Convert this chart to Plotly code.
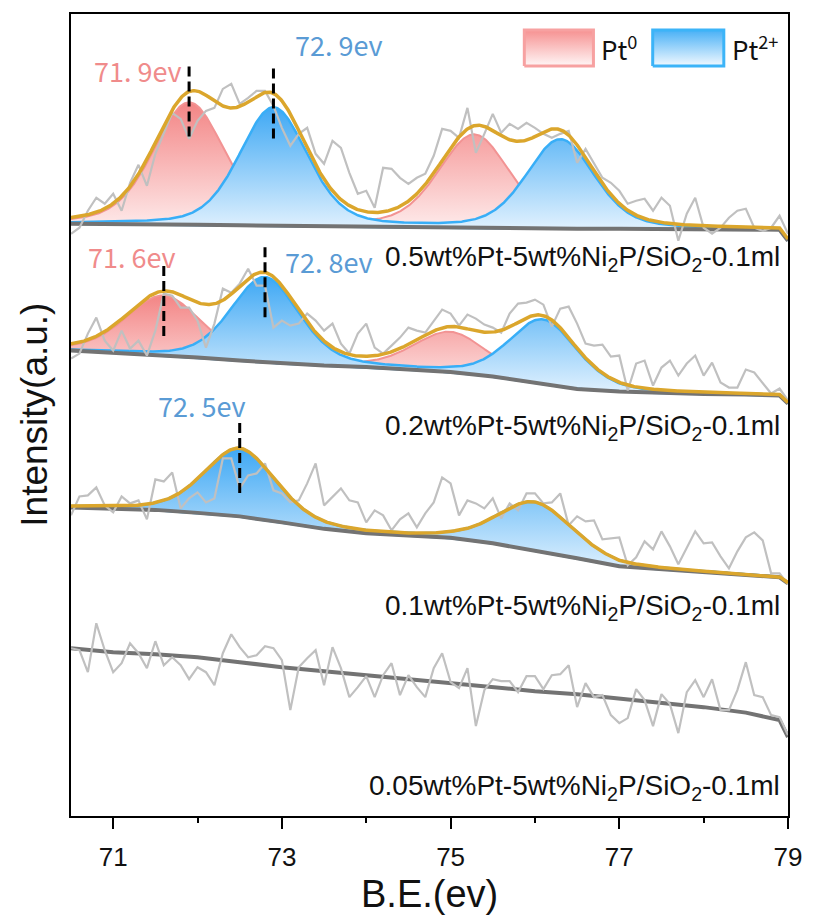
import numpy as np
import plotly.graph_objects as go

# ---------------------------------------------------------------
# Pt 4f XPS spectra of Pt-Ni2P/SiO2 catalysts (stacked, offset a.u.)
# ---------------------------------------------------------------

# binding-energy grid of the raw scans (eV)
ENERGY = np.round(np.arange(70.5, 79.0001, 0.1), 1)

SAMPLE_NAMES = [
    "0.5wt%Pt-5wt%Ni<sub>2</sub>P/SiO<sub>2</sub>-0.1ml",
    "0.2wt%Pt-5wt%Ni<sub>2</sub>P/SiO<sub>2</sub>-0.1ml",
    "0.1wt%Pt-5wt%Ni<sub>2</sub>P/SiO<sub>2</sub>-0.1ml",
    "0.05wt%Pt-5wt%Ni<sub>2</sub>P/SiO<sub>2</sub>-0.1ml",
]

# raw counts (offset, a.u.)
RAW_05 = [583, 589, 606, 619, 613, 623, 606, 634, 652, 631,
          663, 684, 704, 698, 678, 696, 706, 709, 728, 733,
          713, 719, 726, 726, 711, 689, 671, 683, 689, 663,
          653, 676, 669, 644, 623, 626, 609, 649, 648, 639,
          633, 639, 643, 661, 688, 686, 679, 709, 664, 683,
          703, 684, 693, 688, 694, 689, 683, 679, 683, 686,
          654, 668, 653, 639, 634, 626, 613, 616, 618, 606,
          619, 611, 576, 603, 619, 589, 583, 589, 599, 606,
          608, 589, 586, 589, 601, 583]
RAW_02 = [458, 463, 483, 499, 476, 466, 486, 468, 476, 461,
          486, 523, 521, 509, 509, 496, 469, 493, 528, 524,
          533, 548, 531, 531, 489, 496, 491, 493, 503, 496,
          486, 493, 473, 463, 483, 493, 469, 463, 471, 479,
          489, 486, 484, 496, 507, 503, 491, 502, 498, 492,
          489, 484, 503, 513, 514, 517, 512, 490, 508, 510,
          493, 473, 471, 472, 460, 461, 426, 453, 456, 431,
          449, 456, 441, 453, 461, 441, 454, 434, 429, 429,
          447, 444, 434, 423, 428, 416]
RAW_01 = [301, 320, 321, 329, 311, 304, 320, 313, 316, 297,
          337, 335, 344, 308, 318, 324, 314, 318, 358, 358,
          328, 341, 343, 353, 326, 323, 314, 316, 333, 353,
          311, 319, 328, 316, 314, 294, 306, 301, 286, 297,
          303, 289, 303, 314, 339, 333, 301, 316, 313, 308,
          318, 298, 313, 306, 323, 323, 313, 314, 323, 291,
          300, 295, 296, 277, 278, 279, 251, 259, 275, 267,
          285, 270, 252, 269, 285, 273, 274, 260, 248, 265,
          279, 284, 276, 243, 243, 232]
RAW_005 = [168, 166, 144, 193, 166, 144, 153, 173, 163, 148,
           175, 151, 159, 151, 137, 149, 144, 131, 163, 182,
           169, 159, 161, 170, 168, 156, 106, 149, 158, 166,
           131, 169, 148, 119, 129, 140, 119, 141, 153, 121,
           141, 129, 119, 148, 163, 134, 128, 148, 90, 126,
           137, 135, 135, 124, 140, 140, 127, 141, 142, 151,
           109, 133, 119, 121, 101, 93, 98, 127, 116, 90,
           122, 112, 83, 124, 136, 119, 137, 106, 106, 126,
           154, 121, 119, 101, 99, 81]

# Shirley-type background knots (eV, a.u.)
BG_ENERGY = [70.5, 71.0, 71.5, 72.0, 72.5, 73.0, 73.5, 74.0, 74.5, 75.0,
             75.5, 76.0, 76.5, 77.0, 77.5, 78.0, 78.5, 78.9, 79.0]
BG_05 = [593, 593, 592.5, 592, 591.5, 591, 590.5, 590, 589.5, 589,
         588.5, 588, 588, 588, 588, 587.5, 587.5, 587, 576]
BG_02 = [466, 464, 461.5, 459, 456, 453, 451, 449.5, 447, 444.5,
         440, 434, 427.5, 425, 423.5, 422.5, 422, 421, 413]
BG_01 = [309, 308, 306.5, 303.5, 300, 294, 287.5, 283, 280.5, 278.5,
         273, 266, 258, 250, 247, 244, 241.5, 239, 233]
BG_005 = [168, 164, 162, 159, 154, 149, 145, 141, 137.5, 133,
          129, 125, 122, 118, 113, 109, 103.5, 96, 79]

# fitted Pt 4f7/2 / 4f5/2 components: (centre eV, height a.u., FWHM eV)
PT0_05 = [(71.9, 122, 1.0), (75.28, 93, 1.0)]
PT2_05 = [(72.9, 118, 0.95), (76.3, 89, 0.95)]
PT0_02 = [(71.6, 60, 1.05), (75.0, 40, 1.05)]
PT2_02 = [(72.8, 85, 0.95), (76.1, 64, 0.95)]
PT0_01 = []
PT2_01 = [(72.5, 68, 1.0), (76.0, 48, 1.05)]
PT0_005 = []
PT2_005 = []

# peaks annotated with their binding energy: (sample index, centre eV, species)
MARKED = [(0, 71.9, "pt0"), (0, 72.9, "pt2"),
          (1, 71.6, "pt0"), (1, 72.8, "pt2"),
          (2, 72.5, "pt2")]

SAMPLES = [
    (RAW_05, BG_05, PT0_05, PT2_05),
    (RAW_02, BG_02, PT0_02, PT2_02),
    (RAW_01, BG_01, PT0_01, PT2_01),
    (RAW_005, BG_005, PT0_005, PT2_005),
]

# ---------------------------------------------------------------
RED_LINE = "#f29393"
BLUE_LINE = "#38aef7"
RED_FILL = dict(type="vertical", colorscale=[[0, "#fff5f5"], [1, "#f38585"]])
BLUE_FILL = dict(type="vertical", colorscale=[[0, "#f0f8ff"], [1, "#3ea8f4"]])
ENV_COLOR = "#dba62c"
RAW_COLOR = "#c0c0c0"
BG_COLOR = "#737373"
LABEL_COLORS = {"pt0": "#f08b8b", "pt2": "#5a9bd5"}
TEXT_FONT = "Liberation Sans, Arial"


def pseudo_voigt(x, center, height, fwhm, eta=0.3):
    d = (x - center) / fwhm
    gauss = np.exp(-4 * np.log(2) * d ** 2)
    lorentz = 1.0 / (1.0 + 4 * d ** 2)
    return height * ((1 - eta) * gauss + eta * lorentz)


fine = np.linspace(70.5, 79.0, 851)
fig = go.Figure()
envelopes = []

for raw, bg, pt0, pt2 in SAMPLES:
    bg_fine = np.interp(fine, BG_ENERGY, bg)
    red = sum((pseudo_voigt(fine, *p) for p in pt0), np.zeros_like(fine))
    blue = sum((pseudo_voigt(fine, *p) for p in pt2), np.zeros_like(fine))

    for comp, parts, fill, lc, lw in ((red, pt0, RED_FILL, RED_LINE, 2),
                                      (blue, pt2, BLUE_FILL, BLUE_LINE, 2.5)):
        if not parts:
            continue
        fig.add_trace(go.Scatter(
            x=np.concatenate([fine, fine[::-1]]),
            y=np.concatenate([bg_fine + comp, bg_fine[::-1]]),
            mode="lines", fill="toself", fillgradient=fill,
            line=dict(color=lc, width=lw)))

    fig.add_trace(go.Scatter(x=BG_ENERGY, y=bg, mode="lines",
                             line=dict(color=BG_COLOR, width=4)))
    fig.add_trace(go.Scatter(x=ENERGY, y=raw, mode="lines",
                             line=dict(color=RAW_COLOR, width=2.2)))
    if pt0 or pt2:
        env = bg_fine + red + blue
        fig.add_trace(go.Scatter(x=fine, y=env, mode="lines",
                                 line=dict(color=ENV_COLOR, width=3.5)))
        envelopes.append(env)
    else:
        envelopes.append(bg_fine)

# dashed markers and binding-energy labels
label_offsets = {  # (dx eV, dy a.u.) of the text relative to the marker
    (0, 71.9): (-0.6, 21), (0, 72.9): (0.78, 49),
    (1, 71.6): (-0.38, 35), (1, 72.8): (0.76, 11),
    (2, 72.5): (-0.45, 43),
}
for idx, center, species in MARKED:
    top = float(np.interp(center, fine, envelopes[idx]))
    fig.add_trace(go.Scatter(
        x=[center, center], y=[top - 45, top + 30], mode="lines",
        line=dict(color="black", width=3, dash="10px,5px")))
    dx, dy = label_offsets[(idx, center)]
    text = f"{int(center)}. {int(round(center * 10)) % 10}ev"
    fig.add_annotation(x=center + dx, y=top + dy, text=text, showarrow=False,
                       xanchor="center", yanchor="middle",
                       font=dict(family="Noto Sans CJK SC", size=27,
                                 color=LABEL_COLORS[species]))

# sample names
name_y = [558, 389, 209, 29]
for name, yv in zip(SAMPLE_NAMES, name_y):
    fig.add_annotation(x=0.992, xref="paper", y=yv, yref="y", text=name,
                       xanchor="right", yanchor="middle", showarrow=False,
                       font=dict(family=TEXT_FONT, size=28, color="#111111"))

# legend swatches (drawn on a hidden overlay in pixel-like units)
for x0, x1, grad, lc in ((530, 600, [[0, "#fff6f6"], [1, "#f69191"]], "#f7a1a1"),
                         (660, 732, [[0, "#f2f9ff"], [1, "#48b0f6"]], "#3cb4f8")):
    fig.add_trace(go.Scatter(
        x=[x0, x1, x1, x0, x0], y=[751, 751, 787, 787, 751],
        xaxis="x2", yaxis="y2", mode="lines", fill="toself",
        fillgradient=dict(type="vertical", colorscale=grad),
        line=dict(color=lc, width=3)))
for xl, txt in ((606, "Pt<sup>0</sup>"), (738, "Pt<sup>2+</sup>")):
    fig.add_annotation(x=xl, y=769, xref="x2", yref="y2", text=txt,
                       xanchor="left", yanchor="middle", showarrow=False,
                       font=dict(family="Noto Sans CJK SC", size=26,
                                 color="#111"))

# axis titles
fig.add_annotation(x=0.5, y=-0.097, xref="paper", yref="paper", text="B.E.(ev)",
                   xanchor="center", yanchor="middle", showarrow=False,
                   font=dict(family=TEXT_FONT, size=38, color="#111"))
fig.add_annotation(x=-0.052, y=0.5, xref="paper", yref="paper",
                   text="Intensity(a.u.)", textangle=-90, showarrow=False,
                   xanchor="center", yanchor="middle",
                   font=dict(family=TEXT_FONT, size=37, color="#111"))

fig.update_traces(showlegend=False, hoverinfo="skip")
fig.update_layout(
    width=814, height=918,
    margin=dict(l=71, r=17, t=13, b=102),
    paper_bgcolor="white", plot_bgcolor="white",
    xaxis=dict(range=[70.5, 79.0], tickvals=[71, 73, 75, 77, 79],
               ticks="outside", ticklen=11, tickwidth=2, tickcolor="black",
               ticklabelstandoff=6,
               minor=dict(tickvals=[72, 74, 76, 78], ticks="outside",
                          ticklen=5, tickwidth=2, tickcolor="black"),
               showline=True, linecolor="black", linewidth=2, mirror=True,
               showgrid=False, zeroline=False,
               tickfont=dict(family=TEXT_FONT, size=26, color="#111")),
    yaxis=dict(range=[0, 803], showticklabels=False, ticks="",
               showline=True, linecolor="black", linewidth=2, mirror=True,
               showgrid=False, zeroline=False),
    xaxis2=dict(overlaying="x", range=[71, 797], visible=False),
    yaxis2=dict(overlaying="y", range=[0, 803], visible=False),
)

fig.write_html("out.html")
